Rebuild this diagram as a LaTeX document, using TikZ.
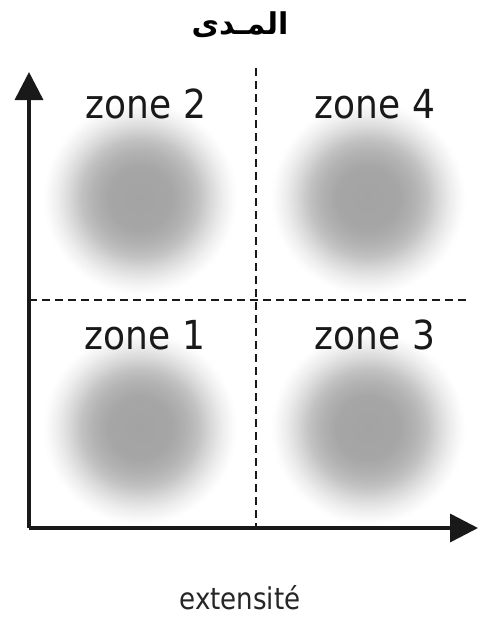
\documentclass[tikz,border=0pt]{standalone}
\usepackage{fontspec}
\setmainfont{DejaVu Sans}
\newfontfamily\arabicfont[Script=Arabic]{DejaVu Sans}
\TeXXeTstate=1
\usetikzlibrary{arrows.meta}
\pgfdeclareradialshading{blob}{\pgfpoint{0bp}{0bp}}{color(0bp)=(black!36); color(8bp)=(black!35); color(12bp)=(black!30); color(15bp)=(black!24); color(18bp)=(black!15); color(21bp)=(black!7); color(24bp)=(black!1); color(25bp)=(white); color(50bp)=(white)}
\tikzset{
  axis/.style={line width=3.5pt, draw=black!90, -{Triangle[width=28pt,length=28pt]}},
  divider/.style={line width=2.6pt, draw=black!90, dash pattern=on 8pt off 5pt},
  zonelabel/.style={font=\fontsize{40}{44}\selectfont, text=black!90, inner sep=0pt},
  axislabel/.style={font=\fontsize{30}{33}\selectfont, text=black!85, inner sep=0pt},
}
\begin{document}
\begin{tikzpicture}[x=1pt,y=-1pt]
\useasboundingbox[fill=white] (0,0) rectangle (479,619);
% blobs
\shade[shading=blob] (140,198) circle (98);
\shade[shading=blob] (368,198) circle (98);
\shade[shading=blob] (140,428) circle (98);
\shade[shading=blob] (368,428) circle (98);
% coordinates
\coordinate (o) at (29,528);
\coordinate (ytip) at (29,72);
\coordinate (xtip) at (478,528);
\coordinate (vtop) at (256,68);
\coordinate (vbot) at (256,530);
\coordinate (hl) at (29,300);
\coordinate (hr) at (470,300);
% dividers
\draw[divider] (vtop) -- (vbot);
\draw[divider] (hl) -- (hr);
% axes
\draw[axis] (o) -- (ytip);
\draw[axis] (o) -- (xtip);
% labels
\node[zonelabel] (z2) at (146,104) {\scalebox{0.9}[1]{zone 2}};
\node[zonelabel] (z4) at (375,104) {\scalebox{0.9}[1]{zone 4}};
\node[zonelabel] (z1) at (145,335) {\scalebox{0.9}[1]{zone 1}};
\node[zonelabel] (z3) at (375,335) {\scalebox{0.9}[1]{zone 3}};
\node[axislabel] (ex) at (240,598) {\scalebox{0.87}[1]{extensité}};
\node[inner sep=0pt] (title) at (240,25) {\arabicfont\bfseries\fontsize{30}{34}\selectfont\beginR المـدى\endR};
\end{tikzpicture}
\end{document}
